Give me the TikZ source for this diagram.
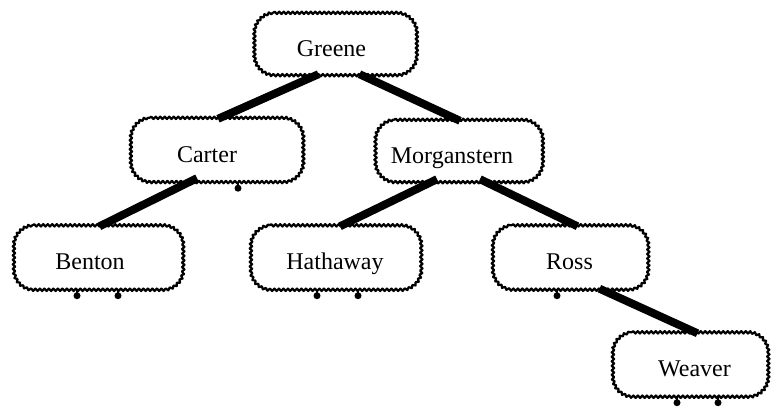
\documentclass[tikz,border=0pt]{standalone}
\usepackage{fontspec}
\setmainfont{Liberation Serif}
\usetikzlibrary{decorations.pathmorphing}
\newcommand\wavybox[1]{%
  \draw[border] ([xshift=20pt]#1.north west) -- ([xshift=-20pt]#1.north east)
    .. controls ([xshift=-9pt]#1.north east) and ([yshift=-9pt]#1.north east) .. ([yshift=-20pt]#1.north east)
    -- ([yshift=20pt]#1.south east)
    .. controls ([yshift=9pt]#1.south east) and ([xshift=-9pt]#1.south east) .. ([xshift=-20pt]#1.south east)
    -- ([xshift=20pt]#1.south west)
    .. controls ([xshift=9pt]#1.south west) and ([yshift=9pt]#1.south west) .. ([yshift=20pt]#1.south west)
    -- ([yshift=-20pt]#1.north west)
    .. controls ([yshift=-9pt]#1.north west) and ([xshift=9pt]#1.north west) .. ([xshift=20pt]#1.north west);}
\begin{document}
\begin{tikzpicture}[x=1pt,y=-1pt,
  person/.style={minimum height=64pt, inner sep=0pt, text height=24pt, text depth=0pt,
    font=\fontsize{24}{28}\selectfont},
  border/.style={line width=2.2pt, line join=round,
    decorate, decoration={snake, segment length=4.5pt, amplitude=1.2pt}},
  link/.style={line width=8pt, line cap=butt},
  nullptr/.style={fill=black},
]
\useasboundingbox (0,0) rectangle (771,408);
\node[person, minimum width=162pt, minimum height=62pt] (greene) at (334.5,44) {Greene\hspace*{6pt}};
\node[person, minimum width=172pt] (carter) at (216,150) {Carter\hspace*{18pt}};
\node[person, minimum width=167pt, minimum height=62pt] (morg) at (458,151) {Morganstern\hspace*{12pt}};
\node[person, minimum width=169pt] (benton) at (97.5,257.5) {Benton\hspace*{15pt}};
\node[person, minimum width=170pt] (hath) at (335,257.5) {Hathaway};
\node[person, minimum width=155pt] (ross) at (569.5,257.5) {Ross};
\node[person, minimum width=155pt] (weaver) at (689.5,364.5) {\hspace*{10pt}Weaver};

\foreach \n in {greene,carter,morg,benton,hath,ross,weaver}{\wavybox{\n}}

\draw[link] ([xshift=-16pt,yshift=1pt]greene.south) -- ([xshift=2pt,yshift=-1pt]carter.north);
\draw[link] ([xshift=25pt,yshift=1pt]greene.south) -- ([xshift=2pt,yshift=-1pt]morg.north);
\draw[link] ([xshift=-19pt,yshift=4pt]carter.south) -- ([xshift=2pt,yshift=-1pt]benton.north);
\draw[link] ([xshift=-21pt,yshift=3pt]morg.south) -- ([xshift=5pt,yshift=-1pt]hath.north);
\draw[link] ([xshift=22pt,yshift=3pt]morg.south) -- ([xshift=8pt,yshift=-1pt]ross.north);
\draw[link] ([xshift=30pt,yshift=1pt]ross.south) -- ([xshift=8pt,yshift=-1pt]weaver.north);

\foreach \n/\dx in {carter/22, benton/-20.5, benton/20.5, hath/-18, hath/23, ross/-12.5, weaver/-12.5, weaver/28.5}{
  \draw[line width=2pt] ([xshift=\dx pt]\n.south) -- ++(0,4);
  \fill[nullptr] ([xshift=\dx pt,yshift=-6pt]\n.south) circle (3.5pt);
}
\end{tikzpicture}
\end{document}
